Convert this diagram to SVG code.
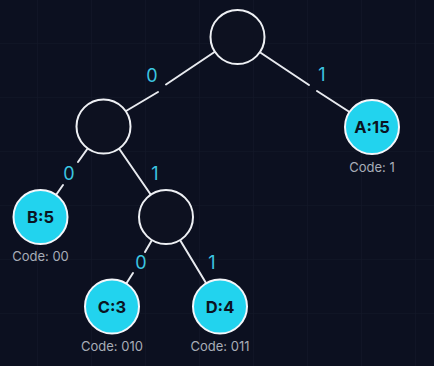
<svg xmlns="http://www.w3.org/2000/svg" width="434" height="366" viewBox="0 0 434 366">
<defs>
<pattern id="grid" x="37" y="43" width="54" height="54" patternUnits="userSpaceOnUse">
<path d="M0 0H54M0 0V54" fill="none" stroke="#131929" stroke-width="1.2"/>
</pattern>
</defs>
<style>
.edge{stroke:#e8eaef;stroke-width:2;fill:none;stroke-linecap:round}
.inner{fill:#0d1120;stroke:#eef0f4;stroke-width:2}
.leaf{fill:#22d3ee;stroke:#f4f6fa;stroke-width:2}
.lt{font-family:Inter,"Liberation Sans",sans-serif;font-weight:700;font-size:16.5px;fill:#0b1322;text-anchor:middle}
.code{font-family:Inter,"Liberation Sans",sans-serif;font-size:13px;fill:#a8adb7;text-anchor:middle}
.bit{font-family:Inter,"Liberation Sans",sans-serif;font-size:18px;fill:#3cc6e2;text-anchor:middle}
</style>
<rect width="434" height="366" fill="#0c1020"/>
<rect width="434" height="366" fill="url(#grid)"/>
<g id="connectors">
<line class="edge" x1="214.5" y1="52" x2="166" y2="84.5"/>
<line class="edge" x1="158" y1="92" x2="126" y2="111"/>
<line class="edge" x1="259.5" y1="52" x2="309" y2="85"/>
<line class="edge" x1="317" y1="91" x2="349.5" y2="112"/>
<line class="edge" x1="88" y1="148" x2="78" y2="162"/>
<line class="edge" x1="63" y1="185" x2="56" y2="195"/>
<line class="edge" x1="119" y1="148.5" x2="151" y2="195"/>
<line class="edge" x1="152" y1="240" x2="145" y2="252"/>
<line class="edge" x1="133" y1="273" x2="126" y2="284"/>
<line class="edge" x1="180" y1="240" x2="206" y2="283"/>
<text class="bit" x="152" y="81.5">0</text>
<text class="bit" x="322" y="80.5">1</text>
<text class="bit" x="69" y="179.5">0</text>
<text class="bit" x="155" y="179.5">1</text>
<text class="bit" x="141" y="268.5">0</text>
<text class="bit" x="212" y="268.5">1</text>
</g>
<g id="root"><circle class="inner" cx="237.5" cy="37" r="27"/></g>
<g id="n-left"><circle class="inner" cx="103.5" cy="126.5" r="27"/></g>
<g id="n-mid"><circle class="inner" cx="166" cy="217" r="27"/></g>
<g id="leaf-A"><circle class="leaf" cx="372" cy="127" r="27"/><text class="lt" x="372" y="133">A:15</text><text class="code" x="372" y="172">Code: 1</text></g>
<g id="leaf-B"><circle class="leaf" cx="40.5" cy="217" r="27"/><text class="lt" x="40.5" y="223">B:5</text><text class="code" x="40.5" y="261">Code: 00</text></g>
<g id="leaf-C"><circle class="leaf" cx="112" cy="306.5" r="27"/><text class="lt" x="112" y="312.5">C:3</text><text class="code" x="112" y="351">Code: 010</text></g>
<g id="leaf-D"><circle class="leaf" cx="220" cy="306.5" r="27"/><text class="lt" x="220" y="312.5">D:4</text><text class="code" x="220" y="351">Code: 011</text></g>
</svg>
